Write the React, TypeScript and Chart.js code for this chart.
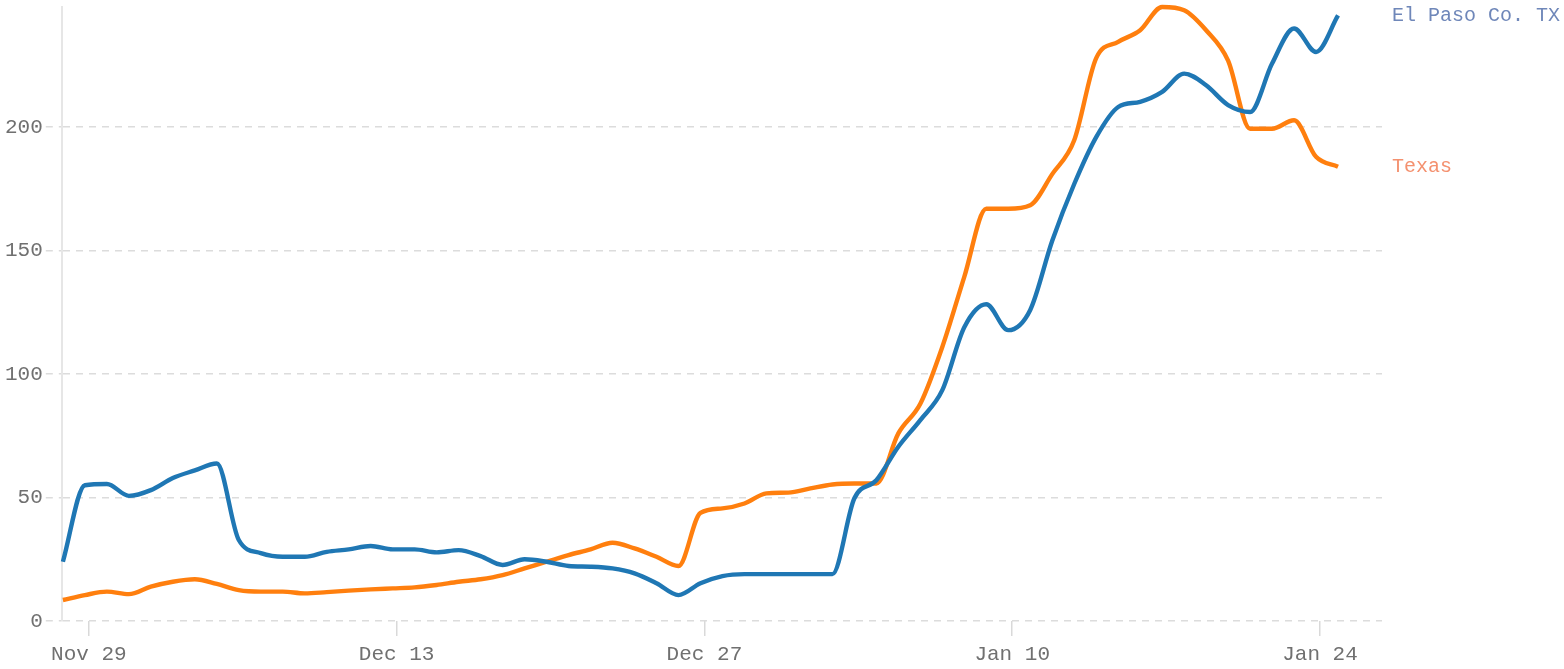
import React, { useEffect, useRef } from "react";
import { Chart, registerables } from "chart.js";

Chart.register(...registerables);

// Daily points, Nov 28 .. Jan 25 (index 0 = Nov 28)
const DATES = [
  "Nov 28", "Nov 29", "Nov 30", "Dec 1", "Dec 2", "Dec 3", "Dec 4", "Dec 5", "Dec 6", "Dec 7",
  "Dec 8", "Dec 9", "Dec 10", "Dec 11", "Dec 12", "Dec 13", "Dec 14", "Dec 15", "Dec 16", "Dec 17",
  "Dec 18", "Dec 19", "Dec 20", "Dec 21", "Dec 22", "Dec 23", "Dec 24", "Dec 25", "Dec 26", "Dec 27",
  "Dec 28", "Dec 29", "Dec 30", "Dec 31", "Jan 1", "Jan 2", "Jan 3", "Jan 4", "Jan 5", "Jan 6",
  "Jan 7", "Jan 8", "Jan 9", "Jan 10", "Jan 11", "Jan 12", "Jan 13", "Jan 14", "Jan 15", "Jan 16",
  "Jan 17", "Jan 18", "Jan 19", "Jan 20", "Jan 21", "Jan 22", "Jan 23", "Jan 24", "Jan 25",
];

const EL_PASO = [
  24, 55, 55.5, 50.7, 53, 57.9, 61, 63.8, 32.8, 27.5,
  26, 26, 28, 29, 30.4, 29, 29, 27.8, 28.7, 26.3,
  22.7, 25, 24, 22.3, 22, 21.3, 19.3, 15.3, 10.5, 15.3,
  18.2, 19, 19, 19, 19, 19, 49.7, 57, 70.6, 81.4,
  93.5, 119, 128.3, 117.8, 126, 154, 177, 196, 208.2, 210.3,
  214.3, 221.7, 217, 209, 206.2, 225.8, 240, 230.5, 245.3,
];

const TEXAS = [
  8.5, 10.5, 11.9, 10.9, 13.9, 15.9, 16.9, 15, 12.5, 11.9,
  11.9, 11.2, 11.7, 12.3, 12.8, 13.2, 13.6, 14.6, 15.9, 16.9,
  18.6, 21.3, 24, 26.7, 29, 31.7, 29.4, 26, 22.3, 43.8,
  45.6, 47.6, 51.7, 52, 53.7, 55.3, 55.7, 55.7, 76, 88,
  111, 139.4, 167, 167, 168.4, 181, 194.7, 228, 234.6, 239.3,
  248.7, 247.4, 239.3, 227, 199.4, 199.4, 202.8, 188, 184,
];

const SERIES_NAMES = ["El Paso Co. TX", "Texas"];
const LINE_COLORS = ["#1f77b4", "#ff7f0e"];
const LABEL_COLORS = ["#6f87b9", "#f4916f"];

const TICK_LABELS = ["Nov 29", "Dec 13", "Dec 27", "Jan 10", "Jan 24"];
const TICK_SHIFT = 0.18; // tick marks sit slightly after the daily points
const Y_TICKS = [0, 50, 100, 150, 200];

const FONT = '"Liberation Mono", "DejaVu Sans Mono", monospace';

const endLabels = {
  id: "endLabels",
  afterDatasetsDraw(chart: any) {
    const { ctx, chartArea } = chart;
    ctx.save();
    ctx.font = `20px ${FONT}`;
    ctx.textAlign = "left";
    ctx.textBaseline = "middle";
    chart.data.datasets.forEach((ds: any, i: number) => {
      const meta = chart.getDatasetMeta(i);
      const pt = meta.data[meta.data.length - 1];
      if (!pt) return;
      ctx.fillStyle = LABEL_COLORS[i];
      ctx.fillText(ds.label, chartArea.right + 10, pt.y);
    });
    ctx.restore();
  },
};

export default function App() {
  const canvasRef = useRef<HTMLCanvasElement | null>(null);

  useEffect(() => {
    const canvas = canvasRef.current;
    if (!canvas) return;
    const toPts = (arr: number[]) => arr.map((v, i) => ({ x: i, y: v }));
    const tickValues = TICK_LABELS.map((lbl) => DATES.indexOf(lbl) + TICK_SHIFT);
    const yMax = Math.max(...EL_PASO, ...TEXAS);

    const chart = new Chart(canvas, {
      type: "line",
      data: {
        datasets: [EL_PASO, TEXAS].map((arr, i) => ({
          label: SERIES_NAMES[i],
          data: toPts(arr),
          borderColor: LINE_COLORS[i],
          backgroundColor: LINE_COLORS[i],
          borderWidth: 4.4,
          pointRadius: 0,
          cubicInterpolationMode: "monotone" as const,
          clip: false as any,
        })),
      },
      plugins: [endLabels],
      options: {
        animation: false,
        responsive: false,
        layout: { padding: { left: 2, right: 182, top: 7, bottom: 0 } },
        plugins: { legend: { display: false }, tooltip: { enabled: false } },
        scales: {
          x: {
            type: "linear",
            min: -0.05,
            max: DATES.length + 1,
            afterBuildTicks: (scale: any) => {
              scale.ticks = tickValues.map((v) => ({ value: v }));
            },
            afterFit: (scale: any) => {
              scale.paddingLeft = 0;
              scale.paddingRight = 0;
              scale.height = 48;
            },
            ticks: {
              autoSkip: false,
              maxRotation: 0,
              padding: 7.5,
              color: "#707070",
              font: { family: FONT, size: 21, lineHeight: 1 },
              callback: (_v: any, idx: number) => TICK_LABELS[idx],
            },
            grid: {
              drawOnChartArea: false,
              drawTicks: true,
              tickLength: 15,
              tickColor: "#d9d9d9",
              lineWidth: 1.5,
            },
            border: { display: false },
          },
          y: {
            type: "linear",
            min: 0,
            max: yMax,
            afterBuildTicks: (scale: any) => {
              scale.ticks = Y_TICKS.map((v) => ({ value: v }));
            },
            afterFit: (scale: any) => {
              scale.paddingTop = 0;
              scale.paddingBottom = 0;
            },
            ticks: {
              padding: 3,
              color: "#707070",
              font: { family: FONT, size: 21 },
              callback: (v: any) => String(v),
            },
            grid: {
              color: "#dcdcdc",
              lineWidth: 1.5,
              tickLength: 16,
              tickColor: "#dcdcdc",
              tickBorderDash: [7, 6],
            },
            border: { display: true, color: "#e6e6e6", width: 2, dash: [7, 6] },
          },
        },
      },
    });
    return () => chart.destroy();
  }, []);

  return (
    <div style={{ position: "absolute", left: 0, top: 0, width: 1564, height: 669 }}>
      <canvas ref={canvasRef} width={1564} height={669} style={{ display: "block" }} />
    </div>
  );
}
